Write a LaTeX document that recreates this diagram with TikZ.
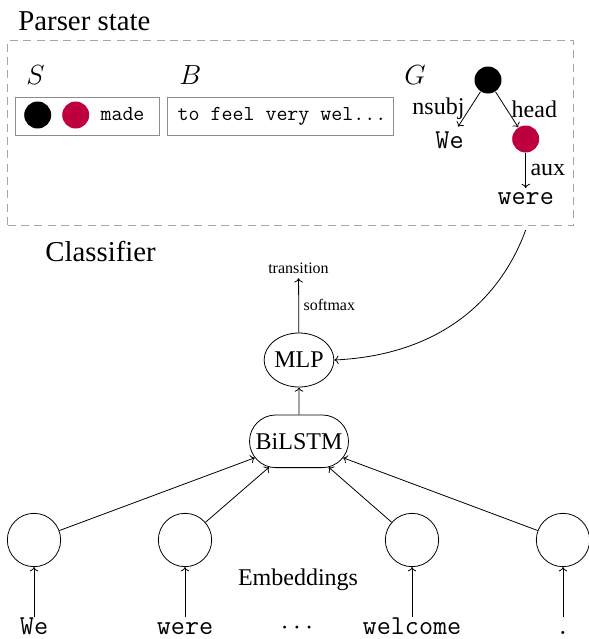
\documentclass[tikz,border=0pt]{standalone}
\usepackage{fontspec}
\setmainfont{Liberation Serif}
\usetikzlibrary{shapes.geometric,shapes.misc,arrows.meta}
\definecolor{dotred}{RGB}{190,0,62}
\begin{document}
\begin{tikzpicture}[x=0.75pt,y=-0.75pt,line width=0.6pt,
  >={To[length=3.2pt,width=6.4pt]},
  font=\fontsize{18}{22}\selectfont,
  title/.style={font=\fontsize{21.6}{26}\selectfont, anchor=base west, inner sep=0},
  frame/.style={draw=gray!70, dash pattern=on 6pt off 4pt, minimum width=424.5pt, minimum height=138.75pt, inner sep=0},
  statebox/.style={draw=gray!90, minimum height=28.5pt, inner sep=0},
  blackdot/.style={circle, fill=black, minimum size=20.25pt, inner sep=0},
  reddot/.style={blackdot, fill=dotred},
  smalltt/.style={font=\fontsize{16}{19}\selectfont\ttfamily, anchor=base, inner sep=0},
  tt/.style={font=\fontsize{20.5}{24}\selectfont\ttfamily},
  lab/.style={font=\fontsize{12}{14}\selectfont},
  mlpnode/.style={draw, ellipse, minimum width=46.5pt, minimum height=40.5pt, inner sep=0},
  lstm/.style={draw, rounded rectangle, minimum width=74.25pt, minimum height=39.5pt, inner sep=0},
  emb/.style={draw, circle, minimum size=40pt, inner sep=0},
  word/.style={tt, anchor=base, text height=9.5pt, text depth=0pt, inner sep=3pt}
]
\useasboundingbox (0,0) rectangle (589,639);

% Parser state
\node[title] (ps) at (18,31) {Parser state};
\node[frame] (fr) at (290.5,133.2) {};
\node[title] (lS) at (26,84) {$S$};
\node[title] (lB) at (179,84) {$B$};
\node[title] (lG) at (404,84) {$G$};

\node[statebox, minimum width=108pt] (sbox) at (87,116) {};
\node[blackdot] (s1) at (37.7,115) {};
\node[reddot] (s2) at (75.7,115) {};
\node[smalltt] (made) at (122.5,120.5) {made};

\node[statebox, minimum width=169.5pt] (bbox) at (280,116) {};
\node[smalltt] (buf) at (282,120.5) {to feel very wel...};

% graph G
\node[blackdot] (g0) at (488,80) {};
\node[reddot] (g1) at (525.7,139) {};
\node[tt] (gwe) at (449.5,140) {We};
\node[tt] (gwere) at (525.7,199) {were};
\draw[->] (g0) -- node[left] {nsubj} (gwe);
\draw[->] (g0) -- node[right] {head} (g1);
\draw[->] (g1) -- node[right] {aux} (gwere);

% Classifier
\node[title] (cl) at (45,261.5) {Classifier};
\node[lab] (trans) at (298.5,268) {transition};
\node[mlpnode] (mlp) at (299,360) {MLP};
\node[lstm] (lstm) at (299,441.3) {BiLSTM};
\draw[->] (mlp) -- node[right, lab] {softmax} (trans);
\draw[->] (lstm) -- (mlp);
\coordinate (cs) at (525.7,230);
\draw[->] (cs) .. controls (500,300) and (440,355) .. (mlp.east);

% Embeddings
\node[emb] (e1) at (34,540) {};
\node[emb] (e2) at (185,540) {};
\node[emb] (e3) at (412,540) {};
\node[emb] (e4) at (563,540) {};
\node[anchor=base] (embl) at (298,585) {Embeddings};

\node[word] (w1) at (34,634.5) {We};
\node[word] (w2) at (185,634.5) {were};
\node[word] (wd) at (297,634.5) {$\cdots$};
\node[word] (w3) at (412,634.5) {welcome};
\node[word] (w4) at (563,634.5) {.};

\foreach \i in {1,2,3,4} {
  \draw[->] (e\i) -- (lstm);
}
\draw[->] (w1) -- (e1);
\draw[->] (w2) -- (e2);
\draw[->] (w3) -- (e3);
\draw[->] (w4) -- (e4);
\end{tikzpicture}
\end{document}
